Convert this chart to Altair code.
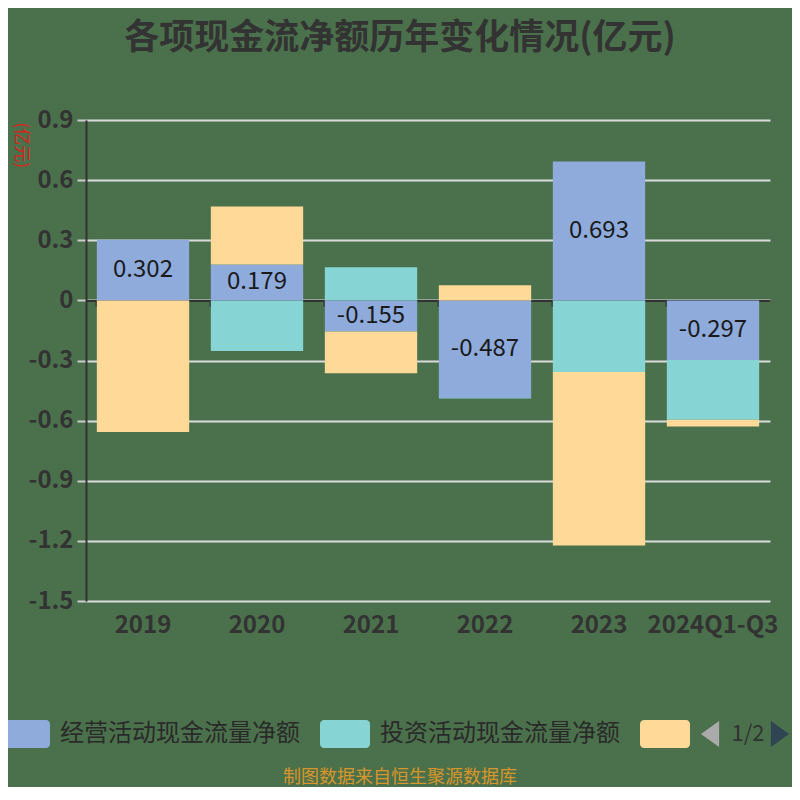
import altair as alt
import pandas as pd

# ---------------- data ----------------
years = ["2019", "2020", "2021", "2022", "2023", "2024Q1-Q3"]
series_names = ["经营活动现金流量净额", "投资活动现金流量净额", "筹资活动现金流量净额"]
operating = [0.302, 0.179, -0.155, -0.487, 0.693, -0.297]
investing = [0.0, -0.253, 0.165, -0.002, -0.358, -0.299]
financing = [-0.657, 0.290, -0.208, 0.075, -0.865, -0.033]
y_ticks = [-1.5, -1.2, -0.9, -0.6, -0.3, 0, 0.3, 0.6, 0.9]
colors = ["#8eabdc", "#86d4d4", "#fed998"]

title_text = "各项现金流净额历年变化情况(亿元)"
unit_text = "(亿元)"
footer_text = "制图数据来自恒生聚源数据库"
page_text = ["1/2"]

rows = []
for i, vals in enumerate([operating, investing, financing]):
    for yr, v in zip(years, vals):
        rows.append({"year": yr, "series": series_names[i], "order": i, "value": v})
df = pd.DataFrame(rows)
lab = pd.DataFrame({
    "year": years,
    "mid": [v / 2 for v in operating],
    "text": [f"{v:.3f}" for v in operating],
})

W, H = 684, 481
y_min, y_max = -1.5, 0.9
zero_from_bottom = H * (0 - y_min) / (y_max - y_min)

x_scale = alt.Scale(domain=years, paddingInner=0.19, paddingOuter=0.095)
y_scale = alt.Scale(domain=[y_min, y_max], nice=False, zero=False)

ROUND_RECT = ("M-0.84,-0.56 L0.84,-0.56 A0.16,0.16 0 0 1 1,-0.4 L1,0.4 "
              "A0.16,0.16 0 0 1 0.84,0.56 L-0.84,0.56 A0.16,0.16 0 0 1 -1,0.4 "
              "L-1,-0.4 A0.16,0.16 0 0 1 -0.84,-0.56 Z")

y_axis = alt.Axis(values=y_ticks, title=unit_text, titleColor="#e0201a",
                  titleFontSize=17, titleFontWeight="normal", titleAngle=90,
                  titleAlign="left", titleBaseline="middle",
                  titleX=-66, titleY=2,
                  labelFontSize=24, labelFontWeight="bold", labelColor="#333333",
                  labelPadding=4,
                  labelExpr="datum.value == 0 ? '0' : (datum.value < 0 ? '-' : '') + format(abs(datum.value), '.1f')",
                  domainColor="#333333", domainWidth=2,
                  tickColor="#cccccc", tickWidth=2, tickSize=9,
                  gridColor="#dcdcdc", gridWidth=2)

bars = alt.Chart(df).mark_bar(opacity=1).encode(
    x=alt.X("year:N", scale=x_scale, sort=years,
            axis=alt.Axis(title=None, orient="bottom", labels=False, grid=False,
                          domain=True, domainColor="#333333", domainWidth=2,
                          ticks=True, tickColor="#333333", tickWidth=2, tickSize=6,
                          bandPosition=0, offset=-zero_from_bottom)),
    y=alt.Y("value:Q", stack="zero", scale=y_scale, axis=y_axis),
    color=alt.Color("series:N", scale=alt.Scale(domain=series_names, range=colors),
                    legend=alt.Legend(title=None, orient="none", legendX=-86, legendY=589,
                                      direction="horizontal", symbolType=ROUND_RECT,
                                      symbolSize=2500, symbolStrokeWidth=0, symbolOpacity=1,
                                      labelFontSize=24, labelColor="#2a2a2a", labelOffset=10,
                                      columnPadding=20, labelLimit=400, padding=0,
                                      labelExpr="datum.label == '筹资活动现金流量净额' ? '' : datum.label")),
    order=alt.Order("order:Q", sort="ascending"),
)

labels = alt.Chart(lab).mark_text(fontSize=24, color="#1a1a1a", baseline="middle").encode(
    x=alt.X("year:N", scale=x_scale, sort=years,
            axis=alt.Axis(title=None, orient="bottom", domain=False, ticks=False, grid=False,
                          labelFontSize=24, labelFontWeight="bold", labelColor="#333333",
                          labelPadding=12, labelAngle=0)),
    y=alt.Y("mid:Q", scale=y_scale, axis=y_axis),
    text="text:N",
)

one = pd.DataFrame({"t": page_text})
left_arrow = alt.Chart(one).mark_point(shape="M0.7,-1 L-0.7,0 L0.7,1 Z", filled=True,
                                       size=676, color="#aaaaaa", opacity=1).encode(
    x=alt.value(624), y=alt.value(614))
right_arrow = alt.Chart(one).mark_point(shape="M-0.7,-1 L0.7,0 L-0.7,1 Z", filled=True,
                                        size=676, color="#2f4554", opacity=1).encode(
    x=alt.value(694), y=alt.value(614))
page_lbl = alt.Chart(one).mark_text(fontSize=22, color="#333333").encode(
    x=alt.value(662), y=alt.value(614), text="t:N")
footer = alt.Chart(pd.DataFrame({"t": [footer_text]})).mark_text(
    fontSize=18, color="#d9952a").encode(x=alt.value(314), y=alt.value(658), text="t:N")

chart = alt.layer(bars, labels, left_arrow, right_arrow, page_lbl, footer).resolve_axis(
    x="independent"
).properties(
    width=W, height=H,
    title=alt.TitleParams(title_text, fontSize=35, fontWeight="bold", color="#333333",
                          anchor="middle", frame="group", dx=-28, offset=52),
    autosize=alt.AutoSizeParams(type="none"),
    padding={"left": 78, "top": 112, "right": 22, "bottom": 186},
).configure(
    background="#4a714b",
    font="Noto Sans CJK SC",
).configure_view(stroke=None)

chart.save("out.html", embed_options={"renderer": "svg", "actions": False})
